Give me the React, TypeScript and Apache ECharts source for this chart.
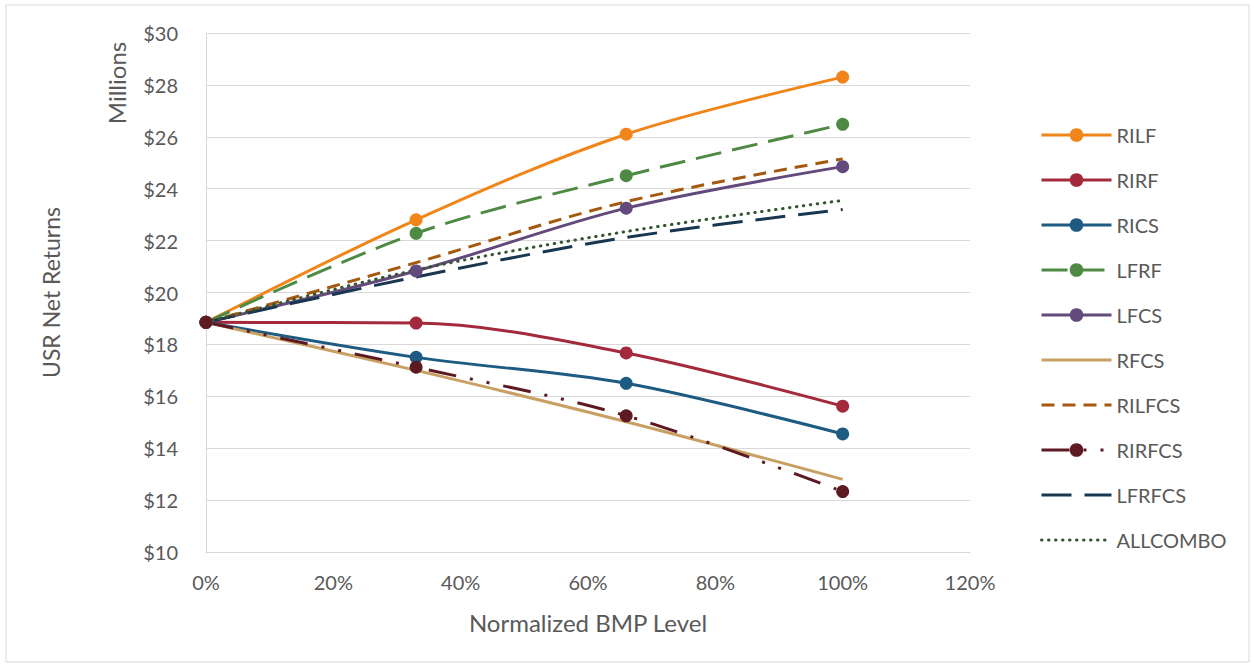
import React, { useEffect, useRef } from "react";
import * as echarts from "echarts";

const xLevels = [0, 0.33, 0.66, 1.0];
const seriesNames = ["RILF", "RIRF", "RICS", "LFRF", "LFCS", "RFCS", "RILFCS", "RIRFCS", "LFRFCS", "ALLCOMBO"];
const RILF = [18.85, 22.8, 26.1, 28.3];
const RIRF = [18.85, 18.82, 17.67, 15.62];
const RICS = [18.85, 17.5, 16.5, 14.55];
const LFRF = [18.85, 22.28, 24.5, 26.48];
const LFCS = [18.85, 20.83, 23.25, 24.85];
const RFCS = [18.85, 17.0, 15.02, 12.8];
const RILFCS = [18.85, 21.15, 23.5, 25.15];
const RIRFCS = [18.85, 17.12, 15.25, 12.33];
const LFRFCS = [18.85, 20.6, 22.12, 23.2];
const ALLCOMBO = [18.85, 20.87, 22.35, 23.55];

const values = [RILF, RIRF, RICS, LFRF, LFCS, RFCS, RILFCS, RIRFCS, LFRFCS, ALLCOMBO];
const colors = ["#F0851A", "#A32A3C", "#1E5B82", "#4F8A44", "#634A7C", "#C9A063", "#A5590F", "#5E1A22", "#17364F", "#36552F"];
const markers = [true, true, true, true, true, false, false, true, false, false];
const dashes: any[] = ["solid", "solid", "solid", [26, 11], "solid", "solid", [13, 8], [28, 14, 3, 14, 3, 14], [30, 13], [0.5, 6.5]];

const FONT = "Lato, 'Open Sans', sans-serif";

export default function App() {
  const ref = useRef<HTMLDivElement>(null);
  useEffect(() => {
    const chart = echarts.init(ref.current!, null, { renderer: "svg" });
    const series = seriesNames.map((name, i) => ({
      name,
      type: "line",
      data: xLevels.map((x, j) => [x, values[i][j]]),
      smooth: 0.33,
      symbol: markers[i] ? "circle" : "none",
      symbolSize: 13,
      showSymbol: markers[i],
      itemStyle: { color: colors[i] },
      lineStyle: {
        color: colors[i],
        width: 3,
        type: dashes[i],
        cap: i === 9 ? "round" : "butt",
      },
      emphasis: { disabled: true },
    }));
    chart.setOption({
      animation: false,
      textStyle: { fontFamily: FONT },
      grid: { left: 206, right: 283, top: 33, bottom: 114 },
      xAxis: {
        type: "value",
        min: 0,
        max: 1.2,
        interval: 0.2,
        name: "Normalized BMP Level",
        nameLocation: "middle",
        nameGap: 58,
        nameTextStyle: { fontSize: 24, color: "#595959", fontFamily: FONT },
        axisLine: { show: true, lineStyle: { color: "#d9d9d9", width: 1 } },
        axisTick: { show: false },
        splitLine: { show: false },
        axisLabel: {
          fontSize: 20,
          color: "#595959",
          margin: 20,
          formatter: (v: number) => Math.round(v * 100) + "%",
        },
      },
      yAxis: {
        type: "value",
        min: 10,
        max: 30,
        interval: 2,
        name: "USR Net Returns",
        nameLocation: "middle",
        nameGap: 144,
        nameTextStyle: { fontSize: 23, color: "#595959", fontFamily: FONT },
        axisLine: { show: true, lineStyle: { color: "#d9d9d9", width: 1 } },
        axisTick: { show: false },
        splitLine: { show: true, lineStyle: { color: "#d9d9d9", width: 1 } },
        axisLabel: {
          fontSize: 20,
          color: "#595959",
          margin: 28,
          formatter: (v: number) => "$" + v,
        },
      },
      legend: {
        orient: "vertical",
        left: 1035,
        top: 118,
        itemWidth: 70,
        itemHeight: 17,
        itemGap: 21,
        lineStyle: { width: 3 },
        data: seriesNames.map((name, i) =>
          markers[i] ? { name } : { name, itemStyle: { opacity: 0 } }
        ),
        textStyle: { fontSize: 20, color: "#595959", lineHeight: 24, fontFamily: FONT },
      },
      graphic: [
        {
          type: "rect",
          shape: { x: 6, y: 5, width: 1243, height: 657 },
          style: { fill: "none", stroke: "#d9d9d9", lineWidth: 1 },
          silent: true,
        },
        {
          type: "text",
          x: 116,
          y: 83,
          rotation: Math.PI / 2,
          style: {
            text: "Millions",
            fontSize: 24,
            fill: "#595959",
            fontFamily: FONT,
            align: "center",
            verticalAlign: "middle",
          },
          silent: true,
        },
      ],
      series,
    });
    return () => chart.dispose();
  }, []);
  return (
    <div
      ref={ref}
      style={{ position: "absolute", left: 0, top: 0, width: 1253, height: 666, background: "#fff" }}
    />
  );
}
